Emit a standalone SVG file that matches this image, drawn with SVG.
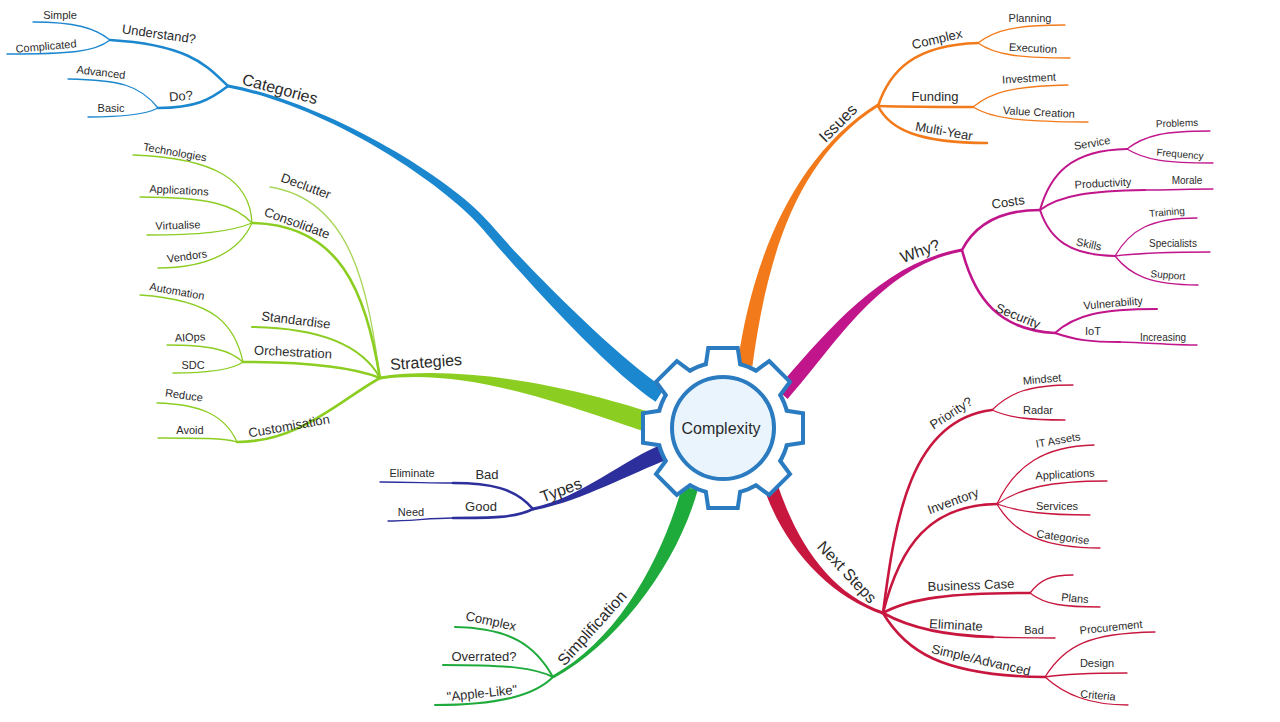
<svg xmlns="http://www.w3.org/2000/svg" xmlns:xlink="http://www.w3.org/1999/xlink" width="1280" height="722" viewBox="0 0 1280 722">
<style>
text{font-family:"Liberation Sans",Arial,sans-serif;fill:#2b2b2b;text-anchor:middle;dominant-baseline:central}
.t1{font-size:16px}.t2{font-size:13px}.t3{font-size:11px}.t4{font-size:10px}
.ln{fill:none;stroke-linecap:round}
.w2{stroke-width:2.6}.w3{stroke-width:2}.wl{stroke-width:1.3}
.cb{stroke:#1b87cf}.cl{stroke:#8ccd22}.ci{stroke:#2c2f9c}.cg{stroke:#1fab3c}.co{stroke:#f27a1a}.cm{stroke:#c0158b}.cr{stroke:#c8173f}
</style>
<defs>
<g id="gearShape">
<circle cx="0" cy="0" r="64"/>
<polygon id="tooth" points="-13,-78 13,-78 16,-58 -16,-58"/>
<use xlink:href="#tooth" transform="rotate(45)"/>
<use xlink:href="#tooth" transform="rotate(90)"/>
<use xlink:href="#tooth" transform="rotate(135)"/>
<use xlink:href="#tooth" transform="rotate(180)"/>
<use xlink:href="#tooth" transform="rotate(225)"/>
<use xlink:href="#tooth" transform="rotate(270)"/>
<use xlink:href="#tooth" transform="rotate(315)"/>
</g>
</defs>
<rect width="1280" height="722" fill="#ffffff"/>
<g id="connectors">
<!-- main tapered branches -->
<path fill="#1b87cf" d="M664.4,388.3 C614.4,355.3 522.5,262.1 490.5,224.1 C453.5,180.1 330.3,103.5 228.3,84.5 L227.7,87.5 C329.7,106.5 446.5,185.9 483.5,229.9 C515.5,267.9 605.6,368.7 655.6,401.7 Z"/>
<path fill="#8ccd22" d="M651.1,412.5 C583.1,390.5 469.8,363.5 379.8,376.5 L380.2,379.5 C470.2,366.5 576.9,409.5 644.9,431.5 Z"/>
<path fill="#2c2f9c" d="M662.2,444.5 C627.2,457.5 579.7,498.5 532.7,507.5 L533.3,510.5 C580.3,501.5 632.8,472.5 667.8,459.5 Z"/>
<path fill="#1fab3c" d="M682.3,485.9 C662.3,557.9 619.3,638.7 552.3,675.7 L553.7,678.3 C620.7,641.3 677.7,562.1 697.7,490.1 Z"/>
<path fill="#f27a1a" d="M752.4,366 C765.4,271 790.8,161.3 878.8,106.3 L877.2,103.7 C789.2,158.7 750.6,269 737.6,364 Z"/>
<path fill="#c0158b" d="M787.6,399 C835.6,345 880.3,266.5 962.3,251.5 L961.7,248.5 C879.7,263.5 824.4,335 776.4,389 Z"/>
<path fill="#c8173f" d="M763.4,486.2 C783.4,547.2 829.5,596.4 882.5,614.4 L883.5,611.6 C830.5,593.6 796.6,542.8 776.6,481.8 Z"/>
<!-- Categories -->
<path class="ln cb w2" d="M228,86 C210,70 195,45 110,40"/>
<path class="ln cb w2" d="M228,86 C210,100 195,108 158,108"/>
<path class="ln cb wl" d="M110,40 C95,28 75,22 33,22"/>
<path class="ln cb wl" d="M110,40 C95,52 70,54 7,54"/>
<path class="ln cb wl" d="M158,108 C140,85 120,80 68,79"/>
<path class="ln cb wl" d="M158,108 C145,115 120,117 88,117"/>
<!-- Strategies -->
<path class="ln wl" stroke="#a8d65a" d="M380,378 C368,290 352,200 270,187"/>
<path class="ln cl w2" d="M380,378 C365,290 340,225 252,223"/>
<path class="ln cl w3" d="M380,378 C362,345 320,328 252,327"/>
<path class="ln cl w2" d="M380,378 C350,366 300,362 243,362"/>
<path class="ln cl w2" d="M380,378 C340,400 300,442 237,442"/>
<path class="ln cl wl" d="M252,223 C250,180 215,158 133,155"/>
<path class="ln cl wl" d="M252,223 C235,205 210,197 140,197"/>
<path class="ln cl wl" d="M252,223 C230,232 200,235 147,235"/>
<path class="ln cl wl" d="M252,223 C240,250 210,268 158,268"/>
<path class="ln cl wl" d="M243,362 C235,325 215,300 140,295"/>
<path class="ln cl wl" d="M243,362 C230,350 210,345 167,345"/>
<path class="ln cl wl" d="M243,362 C232,370 210,373 173,373"/>
<path class="ln cl wl" d="M237,442 C225,415 200,404 157,403"/>
<path class="ln cl wl" d="M237,442 C225,438 200,438 158,438"/>
<!-- Types -->
<path class="ln ci w2" d="M533,509 C515,488 490,483 453,483"/>
<path class="ln ci wl" d="M453,483 C430,483 410,482 380,482"/>
<path class="ln ci w2" d="M533,509 C515,518 490,518 453,518"/>
<path class="ln ci wl" d="M453,518 C430,518 410,521 388,521"/>
<!-- Simplification -->
<path class="ln cg w3" d="M553,677 C535,645 510,628 455,627"/>
<path class="ln cg w3" d="M553,677 C535,668 510,665 443,665"/>
<path class="ln cg w3" d="M553,677 C535,695 500,705 435,705"/>
<!-- Issues -->
<path class="ln co w2" d="M878,106 C890,70 915,45 978,43"/>
<path class="ln co w2" d="M878,106 C910,107 940,107 973,107"/>
<path class="ln co w2" d="M878,106 C890,130 920,143 987,143"/>
<path class="ln co wl" d="M978,43 C995,30 1015,25 1065,25"/>
<path class="ln co wl" d="M978,43 C995,55 1020,58 1070,58"/>
<path class="ln co wl" d="M973,107 C990,93 1010,86 1068,85"/>
<path class="ln co wl" d="M973,107 C990,118 1020,122 1088,122"/>
<!-- Why? -->
<path class="ln cm w2" d="M962,250 C975,225 1000,210 1040,210"/>
<path class="ln cm w2" d="M962,250 C975,300 1000,330 1055,333"/>
<path class="ln cm w3" d="M1040,210 C1050,175 1070,150 1127,149"/>
<path class="ln cm w3" d="M1040,210 C1060,195 1090,191 1145,190"/>
<path class="ln cm wl" d="M1145,190 C1170,190 1190,189 1213,189"/>
<path class="ln cm w3" d="M1040,210 C1050,240 1070,255 1115,256"/>
<path class="ln cm wl" d="M1127,149 C1145,135 1165,131 1210,131"/>
<path class="ln cm wl" d="M1127,149 C1145,160 1165,163 1213,163"/>
<path class="ln cm wl" d="M1115,256 C1130,230 1150,218 1197,218"/>
<path class="ln cm wl" d="M1115,256 C1140,253 1170,252 1210,252"/>
<path class="ln cm wl" d="M1115,256 C1130,275 1150,285 1198,285"/>
<path class="ln cm w3" d="M1055,333 C1075,315 1100,309 1157,309"/>
<path class="ln cm w3" d="M1055,333 C1075,340 1090,342 1120,342"/>
<path class="ln cm wl" d="M1120,342 C1150,343 1175,345 1197,345"/>
<!-- Next Steps -->
<path class="ln cr w2" d="M883,613 C895,520 910,420 992,410"/>
<path class="ln cr w2" d="M883,613 C900,545 930,505 997,504"/>
<path class="ln cr w2" d="M883,613 C910,598 950,593 1030,593"/>
<path class="ln cr w2" d="M883,613 C910,628 950,636 993,637"/>
<path class="ln cr wl" d="M993,637 C1020,638 1040,638 1055,638"/>
<path class="ln cr w2" d="M883,613 C905,650 940,676 1045,677"/>
<path class="ln cr wl" d="M992,410 C1010,392 1030,385 1073,385"/>
<path class="ln cr wl" d="M992,410 C1010,418 1030,420 1065,420"/>
<path class="ln cr wl" d="M997,504 C1015,465 1045,446 1094,445"/>
<path class="ln cr wl" d="M997,504 C1020,488 1050,481 1107,481"/>
<path class="ln cr wl" d="M997,504 C1020,512 1045,515 1090,515"/>
<path class="ln cr wl" d="M997,504 C1015,535 1045,548 1100,548"/>
<path class="ln cr wl" d="M1030,593 C1040,580 1050,575 1073,575"/>
<path class="ln cr wl" d="M1030,593 C1045,605 1065,607 1100,607"/>
<path class="ln cr wl" d="M1045,677 C1065,645 1090,633 1155,632"/>
<path class="ln cr wl" d="M1045,677 C1065,674 1090,673 1127,673"/>
<path class="ln cr wl" d="M1045,677 C1065,695 1090,705 1128,705"/>
</g>
<g id="n-complexity" transform="translate(723,428)">
<use xlink:href="#gearShape" fill="#2b7bc0" stroke="#2b7bc0" stroke-width="8" stroke-linejoin="miter"/>
<use xlink:href="#gearShape" fill="#ffffff"/>
<circle cx="0" cy="0" r="51" fill="#e9f4fc" stroke="#2b7bc0" stroke-width="4"/>
<text x="-2" y="0" style="font-size:16px">Complexity</text>
</g>
<g id="n-categories"><text class="t1" x="280" y="89" transform="rotate(15 280 89)">Categories</text></g>
<g id="n-understand"><text class="t2" x="159" y="34" transform="rotate(8 159 34)">Understand?</text></g>
<g id="n-do"><text class="t2" x="181" y="96" transform="rotate(-5 181 96)">Do?</text></g>
<g id="n-simple"><text class="t3" x="60" y="15">Simple</text></g>
<g id="n-complicated"><text class="t3" x="46" y="46" transform="rotate(-5 46 46)">Complicated</text></g>
<g id="n-advanced"><text class="t3" x="101" y="72" transform="rotate(7 101 72)">Advanced</text></g>
<g id="n-basic"><text class="t3" x="111" y="108">Basic</text></g>
<g id="n-strategies"><text class="t1" x="426" y="362" transform="rotate(-4 426 362)">Strategies</text></g>
<g id="n-declutter"><text class="t2" x="306" y="186" transform="rotate(20 306 186)">Declutter</text></g>
<g id="n-consolidate"><text class="t2" x="297" y="223" transform="rotate(20 297 223)">Consolidate</text></g>
<g id="n-standardise"><text class="t2" x="296" y="320" transform="rotate(7 296 320)">Standardise</text></g>
<g id="n-orchestration"><text class="t2" x="293" y="352" transform="rotate(3 293 352)">Orchestration</text></g>
<g id="n-customisation"><text class="t2" x="289" y="426" transform="rotate(-10 289 426)">Customisation</text></g>
<g id="n-technologies"><text class="t3" x="175" y="152" transform="rotate(10 175 152)">Technologies</text></g>
<g id="n-applications1"><text class="t3" x="179" y="190" transform="rotate(3 179 190)">Applications</text></g>
<g id="n-virtualise"><text class="t3" x="178" y="225" transform="rotate(-2 178 225)">Virtualise</text></g>
<g id="n-vendors"><text class="t3" x="187" y="256" transform="rotate(-8 187 256)">Vendors</text></g>
<g id="n-automation"><text class="t3" x="177" y="291" transform="rotate(10 177 291)">Automation</text></g>
<g id="n-aiops"><text class="t3" x="190" y="337" transform="rotate(-3 190 337)">AIOps</text></g>
<g id="n-sdc"><text class="t3" x="193" y="365">SDC</text></g>
<g id="n-reduce"><text class="t3" x="184" y="395" transform="rotate(8 184 395)">Reduce</text></g>
<g id="n-avoid"><text class="t3" x="190" y="430">Avoid</text></g>
<g id="n-types"><text class="t1" x="561" y="490" transform="rotate(-20 561 490)">Types</text></g>
<g id="n-bad1"><text class="t2" x="487" y="474">Bad</text></g>
<g id="n-eliminate1"><text class="t3" x="412" y="473">Eliminate</text></g>
<g id="n-good"><text class="t2" x="481" y="506">Good</text></g>
<g id="n-need"><text class="t3" x="411" y="512">Need</text></g>
<g id="n-simplification"><text class="t1" x="592" y="628" transform="rotate(-48 592 628)">Simplification</text></g>
<g id="n-complex2"><text class="t2" x="491" y="621" transform="rotate(12 491 621)">Complex</text></g>
<g id="n-overrated"><text class="t2" x="484" y="656">Overrated?</text></g>
<g id="n-applelike"><text class="t2" x="482" y="693" transform="rotate(-6 482 693)">"Apple-Like"</text></g>
<g id="n-issues"><text class="t1" x="838" y="123" transform="rotate(-45 838 123)">Issues</text></g>
<g id="n-complex1"><text class="t2" x="937" y="39" transform="rotate(-13 937 39)">Complex</text></g>
<g id="n-planning"><text class="t3" x="1030" y="18">Planning</text></g>
<g id="n-execution"><text class="t3" x="1033" y="48" transform="rotate(3 1033 48)">Execution</text></g>
<g id="n-funding"><text class="t2" x="935" y="96">Funding</text></g>
<g id="n-investment"><text class="t3" x="1029" y="78" transform="rotate(-3 1029 78)">Investment</text></g>
<g id="n-valuecreation"><text class="t3" x="1039" y="112" transform="rotate(3 1039 112)">Value Creation</text></g>
<g id="n-multiyear"><text class="t2" x="944" y="131" transform="rotate(10 944 131)">Multi-Year</text></g>
<g id="n-why"><text class="t1" x="920" y="251" transform="rotate(-20 920 251)">Why?</text></g>
<g id="n-costs"><text class="t2" x="1008" y="202" transform="rotate(-8 1008 202)">Costs</text></g>
<g id="n-service"><text class="t3" x="1092" y="143" transform="rotate(-10 1092 143)">Service</text></g>
<g id="n-problems"><text class="t4" x="1177" y="123" transform="rotate(-2 1177 123)">Problems</text></g>
<g id="n-frequency"><text class="t4" x="1180" y="154" transform="rotate(5 1180 154)">Frequency</text></g>
<g id="n-productivity"><text class="t3" x="1103" y="183" transform="rotate(-3 1103 183)">Productivity</text></g>
<g id="n-morale"><text class="t4" x="1187" y="180">Morale</text></g>
<g id="n-skills"><text class="t3" x="1089" y="244" transform="rotate(12 1089 244)">Skills</text></g>
<g id="n-training"><text class="t4" x="1167" y="212" transform="rotate(-5 1167 212)">Training</text></g>
<g id="n-specialists"><text class="t4" x="1173" y="243">Specialists</text></g>
<g id="n-support"><text class="t4" x="1168" y="275" transform="rotate(5 1168 275)">Support</text></g>
<g id="n-security"><text class="t2" x="1018" y="316" transform="rotate(22 1018 316)">Security</text></g>
<g id="n-vulnerability"><text class="t3" x="1113" y="303" transform="rotate(-5 1113 303)">Vulnerability</text></g>
<g id="n-iot"><text class="t3" x="1093" y="331">IoT</text></g>
<g id="n-increasing"><text class="t4" x="1163" y="337">Increasing</text></g>
<g id="n-nextsteps"><text class="t1" x="847" y="572" transform="rotate(47 847 572)">Next Steps</text></g>
<g id="n-priority"><text class="t2" x="951" y="413" transform="rotate(-33 951 413)">Priority?</text></g>
<g id="n-mindset"><text class="t3" x="1042" y="379" transform="rotate(-5 1042 379)">Mindset</text></g>
<g id="n-radar"><text class="t3" x="1038" y="410">Radar</text></g>
<g id="n-inventory"><text class="t2" x="953" y="501" transform="rotate(-20 953 501)">Inventory</text></g>
<g id="n-itassets"><text class="t3" x="1058" y="440" transform="rotate(-10 1058 440)">IT Assets</text></g>
<g id="n-applications2"><text class="t3" x="1065" y="474" transform="rotate(-3 1065 474)">Applications</text></g>
<g id="n-services"><text class="t3" x="1057" y="506">Services</text></g>
<g id="n-categorise"><text class="t3" x="1063" y="537" transform="rotate(8 1063 537)">Categorise</text></g>
<g id="n-businesscase"><text class="t2" x="971" y="585" transform="rotate(-2 971 585)">Business Case</text></g>
<g id="n-plans"><text class="t3" x="1075" y="598" transform="rotate(5 1075 598)">Plans</text></g>
<g id="n-eliminate2"><text class="t2" x="956" y="625" transform="rotate(3 956 625)">Eliminate</text></g>
<g id="n-bad2"><text class="t3" x="1034" y="630">Bad</text></g>
<g id="n-simpleadvanced"><text class="t2" x="981" y="660" transform="rotate(13 981 660)">Simple/Advanced</text></g>
<g id="n-procurement"><text class="t3" x="1111" y="627" transform="rotate(-6 1111 627)">Procurement</text></g>
<g id="n-design"><text class="t3" x="1097" y="663">Design</text></g>
<g id="n-criteria"><text class="t3" x="1098" y="695" transform="rotate(5 1098 695)">Criteria</text></g>
</svg>
